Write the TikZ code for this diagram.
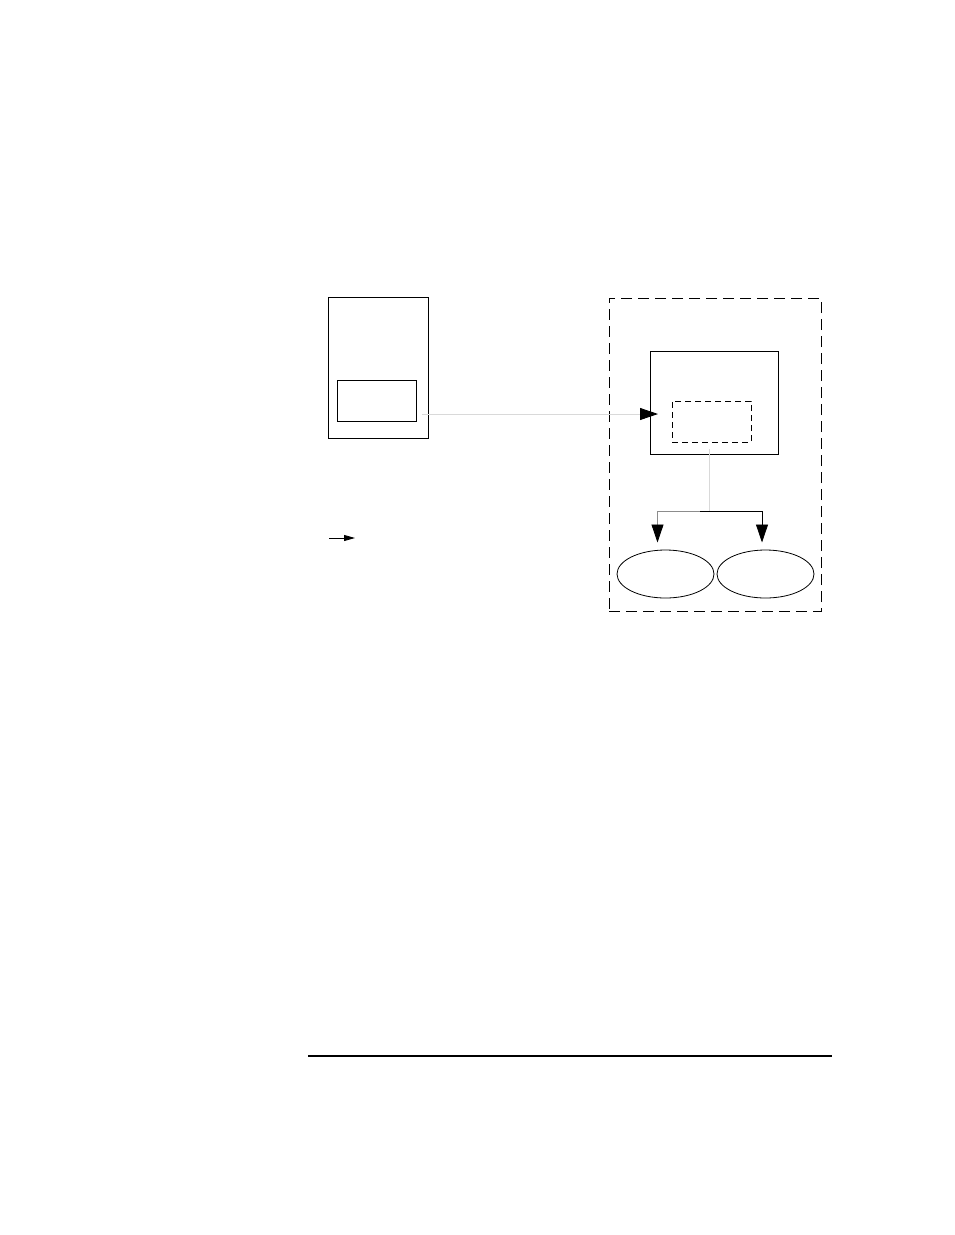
\documentclass[tikz,border=0pt]{standalone}
\usetikzlibrary{arrows.meta,shapes.geometric}
\begin{document}
\begin{tikzpicture}[x=1pt,y=-1pt,
  box/.style={draw=black,line width=0.8pt,inner sep=0pt},
  dbox/.style={draw=black,line width=0.8pt,dash pattern=on 11pt off 6pt},
  sdbox/.style={draw=black,line width=0.8pt,dash pattern=on 6pt off 4pt},
  oval/.style={draw=black,line width=0.8pt,ellipse,inner sep=0pt,minimum width=97pt,minimum height=48pt},
  bigtip/.style={-{Triangle[length=18pt,width=12pt]}},
  lightline/.style={draw=black!15,line width=1pt},
  midline/.style={draw=black!45,line width=0.8pt}]
\useasboundingbox (0,0) rectangle (954,1235);
% left block
\node[box,minimum width=100pt,minimum height=141pt] (left) at (378,367.5) {};
\node[box,minimum width=79pt,minimum height=41pt] (leftin) at (376.5,400.5) {};
% right dashed region
\node[dbox,minimum width=212pt,minimum height=313pt] (region) at (715,454.5) {};
\node[box,minimum width=128pt,minimum height=103pt] (mid) at (714,402.5) {};
\node[sdbox,minimum width=79pt,minimum height=41pt] (midin) at (711.5,421.5) {};
\node[oval] (e1) at (665.5,574) {};
\node[oval] (e2) at (765.5,574) {};
% connectors
\coordinate (s) at (422,414);
\coordinate (t) at (658,414);
\draw[lightline] (s) -- (640,414);
\draw[bigtip,line width=0.8pt] (640,414) -- (t);
\coordinate (v1) at (709,449);
\coordinate (v2) at (709,511.5);
\draw[lightline] (v1) -- (v2);
\coordinate (a1) at (657.5,542.5);
\coordinate (a2) at (762,542.5);
\draw[midline] (703,511.5) -| (657.5,525);
\draw[bigtip,line width=0.8pt] (657.5,525) -- (a1);
\draw[line width=0.8pt] (700,511.5) -| (762,525);
\draw[bigtip,line width=0.8pt] (762,525) -- (a2);
% legend arrow
\coordinate (l1) at (329,538);
\coordinate (l2) at (355,538);
\draw[line width=0.8pt,-{Triangle[length=11pt,width=6pt]}] (l1) -- (l2);
% bottom rule
\coordinate (r1) at (308,1056);
\coordinate (r2) at (832,1056);
\draw[line width=2pt] (r1) -- (r2);
\end{tikzpicture}
\end{document}
